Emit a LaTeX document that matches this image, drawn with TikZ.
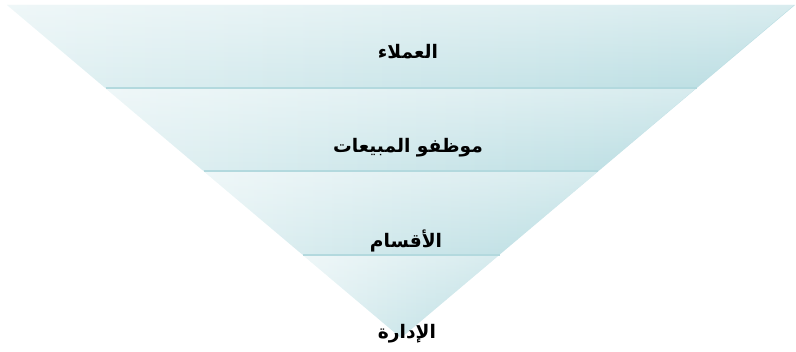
\documentclass[tikz,border=0pt]{standalone}
\usepackage{fontspec}
\newfontfamily\arabicfont[Script=Arabic]{DejaVu Sans}
\TeXXeTstate=1
\usepackage{tikz}
\usetikzlibrary{calc}
\usetikzlibrary{fadings}

\definecolor{bandlight}{HTML}{E2F1F3}
\definecolor{banddark}{HTML}{B9DDE2}
\definecolor{bandline}{HTML}{B3D9DE}
\tikzset{band/.style={left color=bandlight, right color=banddark},
	sheen/.style={fill=white, fill opacity=0.45, path fading=south},
	layer/.style={font=\arabicfont\bfseries\fontsize{14}{16}\selectfont, text=black, inner sep=1pt}}

\begin{document}
\begin{tikzpicture}[x=0.75pt,y=-0.75pt]
\useasboundingbox (0,0) rectangle (796,352);
\coordinate (tl) at (7,5);
\coordinate (tr) at (795,5);
\coordinate (apex) at (401,338);
\foreach \i in {1,2,3} {
	\coordinate (l\i) at ($(tl)!\i/4!(apex)$);
	\coordinate (r\i) at ($(tr)!\i/4!(apex)$);
}

\shade[band] (tl) -- (tr) -- (r1) -- (l1) -- cycle;
\fill[sheen] (tl) -- (tr) -- (r1) -- (l1) -- cycle;
\shade[band] (l1) -- (r1) -- (r2) -- (l2) -- cycle;
\fill[sheen] (l1) -- (r1) -- (r2) -- (l2) -- cycle;
\shade[band] (l2) -- (r2) -- (r3) -- (l3) -- cycle;
\fill[sheen] (l2) -- (r2) -- (r3) -- (l3) -- cycle;
\shade[band] (l3) -- (r3) -- (apex) -- cycle;
\fill[sheen] (l3) -- (r3) -- (apex) -- cycle;

\draw[bandline, line width=1.5pt] (l1) -- (r1);
\draw[bandline, line width=1.5pt] (l2) -- (r2);
\draw[bandline, line width=1.5pt] (l3) -- (r3);

\node[layer] (cust) at (408,52) {\beginR العملاء\endR};
\node[layer] (sales) at (408,148) {\beginR موظفو المبيعات\endR};
\node[layer] (dept) at (406,241) {\beginR الأقسام\endR};
\node[layer] (mgmt) at (407,334) {\beginR الإدارة\endR};
\end{tikzpicture}
\end{document}
